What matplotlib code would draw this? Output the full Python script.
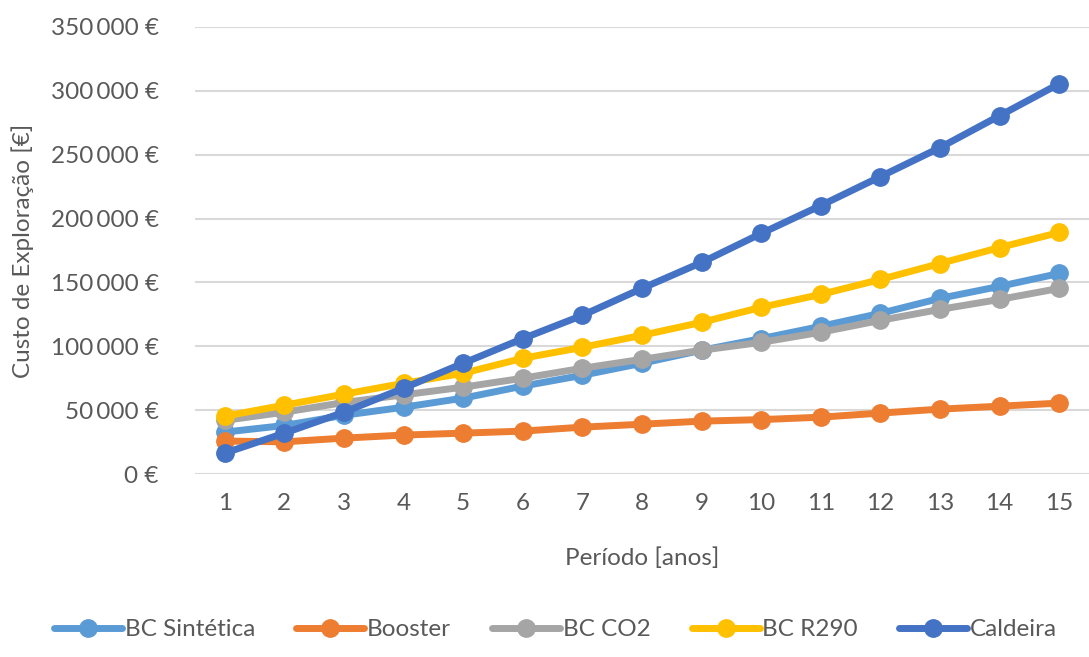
import matplotlib.pyplot as plt
from matplotlib.ticker import FuncFormatter

plt.rcParams['font.family'] = ['Lato', 'DejaVu Sans']

# Custo de exploração acumulado por sistema (€)
anos = list(range(1, 16))
bc_sintetica = [32800, 38000, 46000, 52300, 59400, 68800, 77300, 86700,
                96900, 106000, 115600, 125800, 137500, 146900, 157000]
booster = [25800, 25200, 28100, 30500, 32000, 33600, 36700, 39000,
           41400, 42600, 44500, 47700, 50800, 53100, 55500]
bc_co2 = [42000, 48400, 56000, 62000, 68000, 75000, 82800, 89800,
          96900, 103100, 111000, 120300, 128900, 136700, 145300]
bc_r290 = [45300, 53900, 62500, 71000, 78900, 90600, 99200, 108600,
           118750, 130500, 140600, 152300, 164800, 177300, 189100]
caldeira = [16400, 32000, 48400, 67200, 86700, 106000, 124200, 145300,
            165600, 188300, 210200, 232800, 255500, 280500, 305500]

series = [
    ('BC Sintética', bc_sintetica, '#5B9BD5'),
    ('Booster', booster, '#ED7D31'),
    ('BC CO2', bc_co2, '#A5A5A5'),
    ('BC R290', bc_r290, '#FFC000'),
    ('Caldeira', caldeira, '#4472C4'),
]

texto = '#595959'
fs = 17.5

fig = plt.figure(figsize=(10.89, 6.57), dpi=100)
ax = fig.add_axes([0.179, 0.2785, 0.821, 0.6805])

for nome, valores, cor in series:
    ax.plot(anos, valores, color=cor, lw=5, marker='o', markersize=12.5,
            label=nome, solid_capstyle='round')

ax.set_xlim(0.5, 15.5)
ax.set_ylim(0, 350000)
ax.set_yticks(range(0, 350001, 50000))
ax.set_xticks(anos)
ax.yaxis.set_major_formatter(
    FuncFormatter(lambda v, p: '{:,.0f} €'.format(v).replace(',', '\u2009')))

ax.grid(axis='y', color='#D9D9D9', lw=1.5)
ax.set_axisbelow(True)
for s in ax.spines.values():
    s.set_visible(False)
ax.tick_params(axis='both', length=0, labelsize=fs, colors=texto)
ax.tick_params(axis='y', pad=26)
ax.tick_params(axis='x', pad=14)

ax.set_xlabel('Período [anos]', fontsize=fs, color=texto, labelpad=24)
ax.set_ylabel('Custo de Exploração [€]', fontsize=fs, color=texto, labelpad=12)

fig.legend(loc='lower center', bbox_to_anchor=(0.51, -0.008), ncol=5,
           frameon=False, fontsize=fs, labelcolor=texto, handlelength=2.8,
           handletextpad=0.1, columnspacing=1.7)

fig.savefig('out.png', dpi=100)
